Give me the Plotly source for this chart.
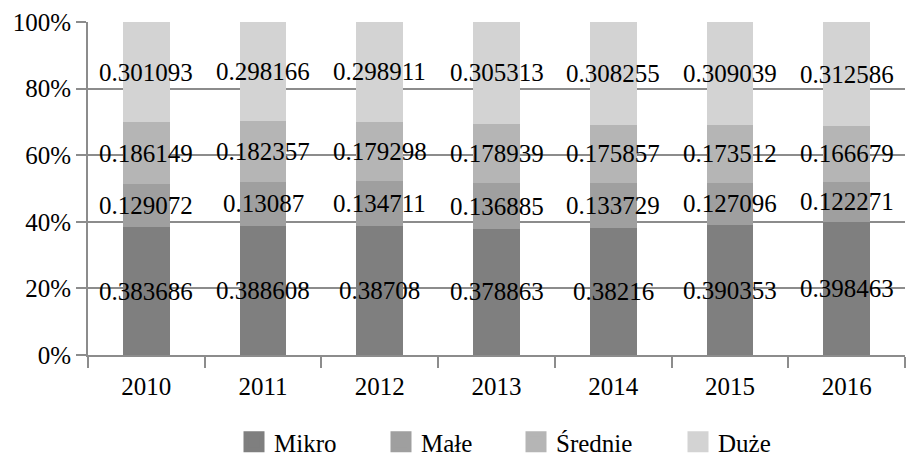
import plotly.graph_objects as go

years = ["2010", "2011", "2012", "2013", "2014", "2015", "2016"]
mikro = [0.383686, 0.388608, 0.38708, 0.378863, 0.38216, 0.390353, 0.398463]
male = [0.129072, 0.13087, 0.134711, 0.136885, 0.133729, 0.127096, 0.122271]
srednie = [0.186149, 0.182357, 0.179298, 0.178939, 0.175857, 0.173512, 0.166679]
duze = [0.301093, 0.298166, 0.298911, 0.305313, 0.308255, 0.309039, 0.312586]

series = [
    ("Mikro", mikro, "#7f7f7f", 102),
    ("Małe", male, "#9f9f9f", 90),
    ("Średnie", srednie, "#b5b5b5", 117),
    ("Duże", duze, "#d3d3d3", 60),
]

FONT = "Liberation Serif"
FS = 25
fig = go.Figure()
base = [0.0] * len(years)
annotations = []
for name, vals, col, lw in series:
    fig.add_trace(go.Bar(
        x=years, y=vals, name=name, marker=dict(color=col, line=dict(width=0)),
        showlegend=False,
    ))
    for i, v in enumerate(vals):
        annotations.append(dict(
            x=i, y=base[i] + v / 2, xref="x", yref="y", text=f"{v:g}",
            showarrow=False, font=dict(family=FONT, size=FS, color="black"),
            xanchor="center", yanchor="middle",
        ))
        base[i] += v
    # legend proxy
    fig.add_trace(go.Scatter(
        x=[years[0]], y=[None], mode="markers", name=name, legendwidth=lw,
        marker=dict(symbol="square", size=16, color=col, line=dict(width=5, color=col)),
    ))

fig.update_layout(
    barmode="stack", bargap=0.6,
    width=911, height=455,
    margin=dict(l=88, r=6, t=22, b=100, autoexpand=False),
    paper_bgcolor="white", plot_bgcolor="white",
    font=dict(family=FONT, size=FS, color="black"),
    annotations=annotations,
    showlegend=True,
    legend=dict(orientation="h", x=234 / 911, xanchor="left", xref="container",
                y=13 / 455, yref="container", yanchor="middle",
                font=dict(family=FONT, size=FS), itemwidth=30, traceorder="normal",
                tracegroupgap=0, borderwidth=0, bgcolor="rgba(0,0,0,0)"),
    xaxis=dict(type="category", categoryorder="array", categoryarray=years,
               range=[-0.5, len(years) - 0.5],
               showline=True, linecolor="#8c8c8c", linewidth=2, ticks="outside",
               tickson="boundaries", ticklen=11, tickcolor="#8c8c8c", tickwidth=2,
               ticklabelstandoff=8,
               showgrid=False, tickfont=dict(family=FONT, size=FS)),
    yaxis=dict(range=[0, 1], tickvals=[0, 0.2, 0.4, 0.6, 0.8, 1.0], tickformat=".0%",
               showline=True, linecolor="#8c8c8c", linewidth=2, ticks="outside",
               ticklen=10, tickcolor="#8c8c8c", tickwidth=2,
               showgrid=True, gridcolor="#8c8c8c", gridwidth=2, zeroline=False,
               tickfont=dict(family=FONT, size=FS)),
)

fig.write_html("out.html")
